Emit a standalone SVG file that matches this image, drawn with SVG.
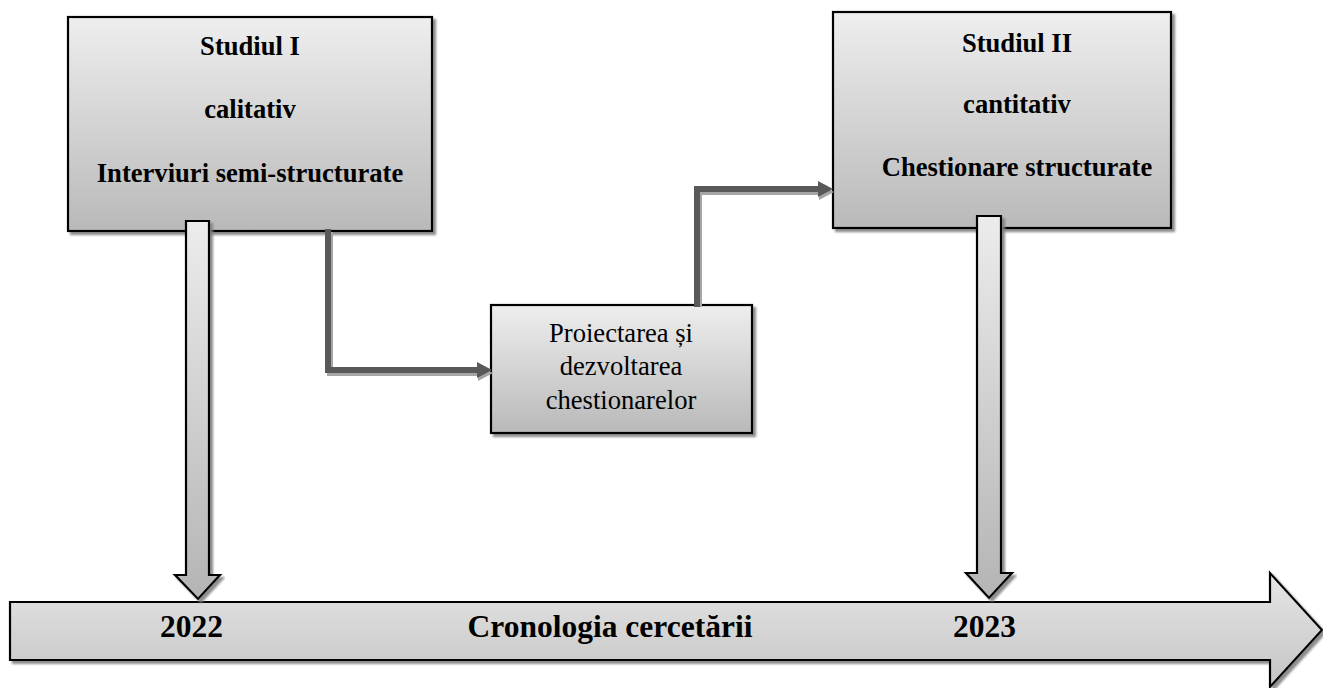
<svg xmlns="http://www.w3.org/2000/svg" width="1323" height="688" viewBox="0 0 1323 688">
<defs>
<linearGradient id="gBox" x1="0" y1="0" x2="0" y2="1">
<stop offset="0" stop-color="#eeeeee"/><stop offset="1" stop-color="#b9b9b9"/>
</linearGradient>
<linearGradient id="gTime" x1="0" y1="0" x2="0" y2="1">
<stop offset="0" stop-color="#e6e6e6"/><stop offset="1" stop-color="#c4c4c4"/>
</linearGradient>
<linearGradient id="gDown" x1="0" y1="0" x2="0" y2="1">
<stop offset="0" stop-color="#ececec"/><stop offset="1" stop-color="#b4b4b4"/>
</linearGradient>
<filter id="sh" x="-5%" y="-5%" width="115%" height="115%">
<feDropShadow dx="3" dy="3" stdDeviation="0.8" flood-color="#808080" flood-opacity="0.9"/>
</filter>
</defs>
<style>
.box{stroke:#000;stroke-width:2.2;fill:url(#gBox);filter:url(#sh)}
text{font-family:'Liberation Serif','Tinos','Times New Roman','DejaVu Serif',serif}
.b{font-weight:bold;font-size:26.6px;fill:#000;text-anchor:middle}
.r{font-size:26.6px;fill:#000;text-anchor:middle}
.t{font-weight:bold;font-size:31.5px;fill:#000}
.ln{fill:none;stroke:#595959;stroke-width:6}
.lns{fill:none;stroke:#a6a6a6;stroke-width:6}
.ah{fill:#595959}
.ahs{fill:#a6a6a6}
</style>

<g id="timeline">
<polygon points="10,602 1270,602 1270,573 1322,630 1270,687 1270,660 10,660" fill="url(#gTime)" stroke="#000" stroke-width="2.2" filter="url(#sh)"/>
<text class="t" x="160" y="637">2022</text>
<text class="t" x="610" y="637" text-anchor="middle">Cronologia cercetării</text>
<text class="t" x="953" y="637">2023</text>
</g>

<g id="studiul1">
<rect class="box" x="68" y="17" width="364" height="214"/>
<text class="b" x="250" y="55">Studiul I</text>
<text class="b" x="250" y="118">calitativ</text>
<text class="b" x="250" y="182">Interviuri semi-structurate</text>
</g>

<g id="studiul2">
<rect class="box" x="833" y="12" width="338" height="216"/>
<text class="b" x="1017" y="52">Studiul II</text>
<text class="b" x="1017" y="113">cantitativ</text>
<text class="b" x="1017" y="176">Chestionare structurate</text>
</g>

<g id="proiectare">
<rect class="box" x="491" y="305" width="261" height="128"/>
<text class="r" x="621" y="342">Proiectarea și</text>
<text class="r" x="621" y="375">dezvoltarea</text>
<text class="r" x="621" y="409">chestionarelor</text>
</g>

<g id="connectors">
<polygon points="186,221 209,221 209,575 220,575 198,599 175,575 186,575" fill="url(#gDown)" stroke="#000" stroke-width="2.2" filter="url(#sh)"/>
<polygon points="977,216 1001,216 1001,573 1012,573 989,598 966,573 977,573" fill="url(#gDown)" stroke="#000" stroke-width="2.2" filter="url(#sh)"/>
<polyline class="lns" points="330,232 330,373 478,373"/>
<polygon class="ahs" points="478,365 493,373 478,381"/>
<polyline class="ln" points="328,229 328,370 478,370"/>
<polygon class="ah" points="477,362 492,370 477,378"/>
<polyline class="lns" points="699,307 699,192 819,192"/>
<polygon class="ahs" points="819,184 834,192 819,200"/>
<polyline class="ln" points="697,307 697,189 819,189"/>
<polygon class="ah" points="818,181 833,189 818,197"/>
</g>
</svg>
